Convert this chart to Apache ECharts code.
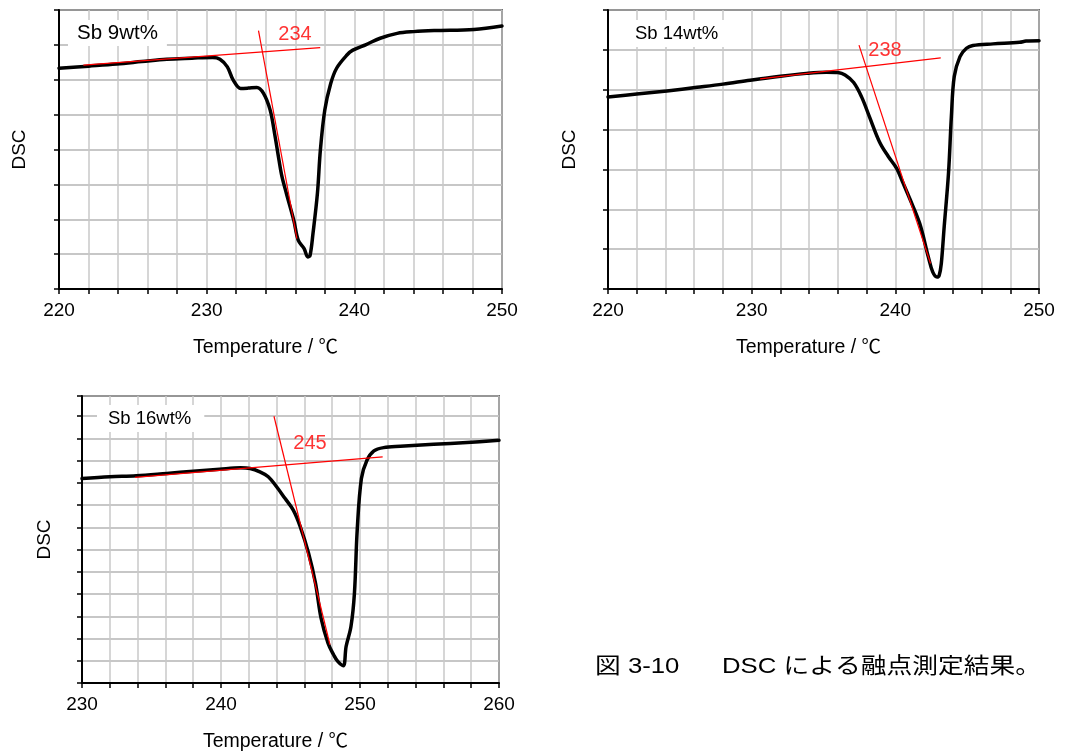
<!DOCTYPE html>
<html>
<head>
<meta charset="utf-8">
<script src="https://cdn.jsdelivr.net/npm/echarts@6/dist/echarts.min.js"></script>
<style>
  html, body { margin: 0; padding: 0; background: #fff; }
  #chart { width: 1065px; height: 753px; }
</style>
</head>
<body>
<div id="chart"></div>
<script>
// DSC traces (arbitrary units, endothermic downward) for three Sb contents
const temp9 = [220.0, 222.0, 223.9, 225.6, 227.3, 229.0, 230.4, 230.9, 231.4, 231.8, 232.3, 232.8, 233.4, 233.85, 234.3, 234.6, 234.9, 235.1, 235.4, 235.9, 236.2, 236.6, 236.85, 237.0, 237.2, 237.5, 237.7, 238.0, 238.4, 238.8, 239.5, 239.9, 240.8, 241.75, 242.9, 244.0, 245.4, 248.1, 250.0];
const dsc9  = [6.33, 6.39, 6.45, 6.52, 6.59, 6.62, 6.64, 6.59, 6.37, 5.99, 5.75, 5.76, 5.78, 5.61, 5.13, 4.46, 3.69, 3.22, 2.74, 1.97, 1.40, 1.16, 0.92, 0.96, 1.59, 2.74, 3.98, 5.13, 5.89, 6.33, 6.71, 6.85, 7.01, 7.19, 7.33, 7.38, 7.41, 7.44, 7.54];

const temp14 = [220.0, 222.0, 224.1, 226.2, 228.0, 229.9, 232.0, 233.8, 235.2, 236.0, 236.5, 237.1, 237.65, 238.2, 238.9, 239.5, 240.1, 240.5, 241.0, 241.7, 242.3, 242.6, 242.9, 243.05, 243.2, 243.4, 243.7, 243.9, 244.1, 244.5, 244.95, 245.4, 246.8, 248.65, 249.1, 250.0];
const dsc14  = [4.82, 4.89, 4.97, 5.06, 5.14, 5.24, 5.34, 5.41, 5.44, 5.43, 5.37, 5.18, 4.82, 4.32, 3.69, 3.33, 3.02, 2.69, 2.27, 1.64, 0.80, 0.43, 0.30, 0.34, 0.64, 1.56, 2.90, 4.32, 5.33, 5.83, 6.04, 6.11, 6.15, 6.19, 6.22, 6.23];

const temp16 = [230.0, 232.0, 233.9, 236.1, 238.0, 239.9, 241.4, 242.1, 242.8, 243.4, 244.0, 244.6, 245.2, 245.7, 246.3, 246.8, 247.2, 247.7, 248.1, 248.4, 248.8, 249.0, 249.35, 249.6, 249.8, 250.1, 250.5, 251.0, 251.7, 252.9, 255.3, 257.7, 260.0];
const dsc16  = [9.19, 9.27, 9.31, 9.42, 9.52, 9.61, 9.67, 9.64, 9.49, 9.27, 8.82, 8.30, 7.77, 7.03, 5.83, 4.48, 2.91, 1.79, 1.27, 0.97, 0.78, 1.64, 2.54, 4.04, 6.88, 9.19, 10.01, 10.43, 10.58, 10.64, 10.73, 10.81, 10.91];

// Onset construction: baseline and leading-edge tangents [[x1, y1], [x2, y2]]
const baseline9  = [[221.65, 6.42], [237.69, 6.92]];
const tangent9   = [[233.51, 7.41], [236.11, 1.445]];
const baseline14 = [[230.59, 5.27], [243.16, 5.80]];
const tangent14  = [[237.47, 6.12], [242.45, 0.64]];
const baseline16 = [[233.81, 9.24], [251.63, 10.16]];
const tangent16  = [[243.81, 11.99], [247.84, 1.72]];

// Onset temperatures (°C) and where their labels sit in data space
const onsets = [234, 238, 245];
const onsetLabelPos = [[235.98, 7.29], [239.28, 5.98], [246.4, 10.76]];

const sampleNames = ['Sb 9wt%', 'Sb 14wt%', 'Sb 16wt%'];
const xRanges = [[220, 250], [220, 250], [230, 260]];
const yRanges = [[0, 8], [0, 7], [0, 12.9]];

const FONT = "'Liberation Sans', Arial, 'Noto Sans CJK JP', sans-serif";

const grids = [
  { left: 59, top: 10, width: 443, height: 279 },
  { left: 608, top: 10, width: 431, height: 279 },
  { left: 82, top: 396, width: 417, height: 287 }
].map(g => Object.assign({ show: true, borderColor: '#000', borderWidth: 1.5, backgroundColor: 'transparent' }, g));

const xAxes = xRanges.map((r, i) => ({
  type: 'value', gridIndex: i, min: r[0], max: r[1], interval: 2,
  name: 'Temperature / ℃', nameLocation: 'middle', nameGap: 49,
  nameTextStyle: { fontFamily: FONT, fontSize: 19.5, color: '#000', padding: [0, 30, 0, 0] },
  axisLine: { lineStyle: { color: '#000', width: 2 } },
  axisTick: { show: true, length: 5, lineStyle: { color: '#000', width: 1.5 } },
  axisLabel: {
    fontFamily: FONT, fontSize: 19, color: '#000', margin: 12,
    formatter: v => (v % 10 === 0 ? String(v) : '')
  },
  splitLine: { show: true, lineStyle: { color: '#c8c8c8', width: 1.5 } }
}));

const yAxes = yRanges.map((r, i) => ({
  type: 'value', gridIndex: i, min: r[0], max: r[1], interval: 1,
  name: 'DSC', nameLocation: 'middle', nameGap: [30, 29, 28][i], nameRotate: 90,
  nameTextStyle: { fontFamily: FONT, fontSize: 19, color: '#000' },
  axisLine: { show: true, lineStyle: { color: '#000', width: 2 } },
  axisTick: { show: true, length: 5, lineStyle: { color: '#000', width: 1.5 } },
  axisLabel: { show: false },
  splitLine: { show: true, lineStyle: { color: '#b4b4b4', width: 1.5 } }
}));

const zip = (xs, ys) => xs.map((x, k) => [x, ys[k]]);
const curves = [zip(temp9, dsc9), zip(temp14, dsc14), zip(temp16, dsc16)];
const constructions = [[baseline9, tangent9], [baseline14, tangent14], [baseline16, tangent16]];

const series = [];
curves.forEach((data, i) => {
  series.push({
    type: 'line', xAxisIndex: i, yAxisIndex: i, data: data,
    smooth: 0.35, symbol: 'none', silent: true,
    lineStyle: { color: '#000', width: 3.5, join: 'round', cap: 'round' }, z: 3
  });
});
constructions.forEach((pair, i) => {
  pair.forEach(seg => {
    series.push({
      type: 'line', xAxisIndex: i, yAxisIndex: i, data: seg,
      symbol: 'none', silent: true,
      lineStyle: { color: '#ff0000', width: 1.2 }, z: 4
    });
  });
  series.push({
    type: 'scatter', xAxisIndex: i, yAxisIndex: i,
    data: [onsetLabelPos[i].concat(onsets[i])],
    symbolSize: 0, silent: true, z: 5,
    label: {
      show: true, position: 'inside',
      formatter: p => String(p.value[2]),
      fontFamily: FONT, fontSize: 20, color: '#ff0000'
    }
  });
});

const titleBoxes = [
  { left: 68, top: 20, padding: [3, 9, 2, 9], fontSize: 20.5, lineHeight: 21 },
  { left: 623, top: 20, padding: [4, 10, 4, 12], fontSize: 18.5, lineHeight: 19 },
  { left: 97, top: 405, padding: [4, 13, 4, 11], fontSize: 18.5, lineHeight: 19 }
];
const titles = sampleNames.map((name, i) => ({
  text: name, left: titleBoxes[i].left, top: titleBoxes[i].top,
  padding: titleBoxes[i].padding, backgroundColor: '#fff', itemGap: 0,
  textStyle: { fontFamily: FONT, fontSize: titleBoxes[i].fontSize, lineHeight: titleBoxes[i].lineHeight, fontWeight: 'normal', color: '#000' }
}));

const chart = echarts.init(document.getElementById('chart'), null, { renderer: 'canvas' });
chart.setOption({
  animation: false,
  backgroundColor: '#fff',
  title: titles,
  grid: grids,
  xAxis: xAxes,
  yAxis: yAxes,
  series: series,
  graphic: [
    { type: 'text', x: 595, y: 667, scaleX: 1.17, z: 10,
      style: { text: '図 3-10', font: '22px ' + FONT, fill: '#000', verticalAlign: 'middle', align: 'left' } },
    { type: 'text', x: 722, y: 667, scaleX: 1.17, z: 10,
      style: { text: 'DSC による融点測定結果。', font: '22px ' + FONT, fill: '#000', verticalAlign: 'middle', align: 'left' } }
  ]
});
</script>
</body>
</html>
